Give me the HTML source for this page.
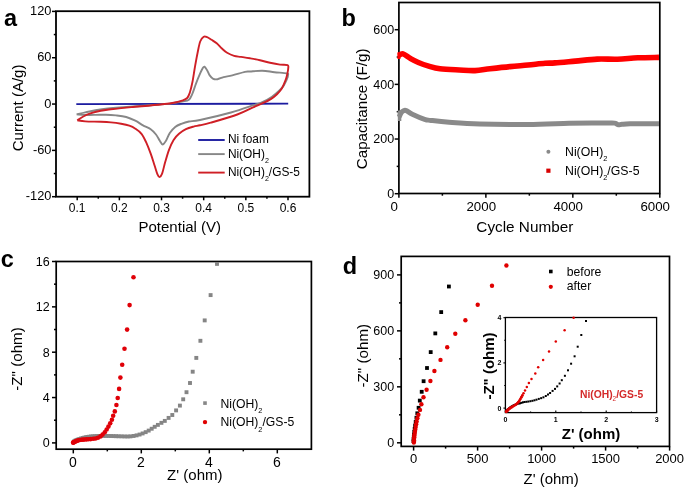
<!DOCTYPE html>
<html><head><meta charset="utf-8"><style>
html,body{margin:0;padding:0;background:#fff;}
svg{display:block;will-change:transform;font-family:"Liberation Sans", sans-serif;}
</style></head><body>
<svg width="685" height="489" viewBox="0 0 685 489">
<rect width="685" height="489" fill="#fff"/>
<rect x="56" y="11.2" width="253.4" height="185.5" fill="none" stroke="#000" stroke-width="1.8"/>
<line x1="52" y1="11.4" x2="56" y2="11.4" stroke="#000" stroke-width="1.5"/>
<text x="51.4" y="14.9" font-size="12.8" text-anchor="end" font-weight="normal" fill="#000">120</text>
<line x1="52" y1="57.72" x2="56" y2="57.72" stroke="#000" stroke-width="1.5"/>
<text x="51.4" y="61.22" font-size="12.8" text-anchor="end" font-weight="normal" fill="#000">60</text>
<line x1="52" y1="104.05" x2="56" y2="104.05" stroke="#000" stroke-width="1.5"/>
<text x="51.4" y="107.55" font-size="12.8" text-anchor="end" font-weight="normal" fill="#000">0</text>
<line x1="52" y1="150.38" x2="56" y2="150.38" stroke="#000" stroke-width="1.5"/>
<text x="51.4" y="153.88" font-size="12.8" text-anchor="end" font-weight="normal" fill="#000">-60</text>
<line x1="52" y1="196.7" x2="56" y2="196.7" stroke="#000" stroke-width="1.5"/>
<text x="51.4" y="200.2" font-size="12.8" text-anchor="end" font-weight="normal" fill="#000">-120</text>
<line x1="53.8" y1="34.56" x2="56" y2="34.56" stroke="#000" stroke-width="1.5"/>
<line x1="53.8" y1="80.89" x2="56" y2="80.89" stroke="#000" stroke-width="1.5"/>
<line x1="53.8" y1="127.21" x2="56" y2="127.21" stroke="#000" stroke-width="1.5"/>
<line x1="53.8" y1="173.54" x2="56" y2="173.54" stroke="#000" stroke-width="1.5"/>
<line x1="77.2" y1="196.7" x2="77.2" y2="200.3" stroke="#000" stroke-width="1.5"/>
<text x="77.2" y="212.4" font-size="12" text-anchor="middle" font-weight="normal" fill="#000">0.1</text>
<line x1="119.36" y1="196.7" x2="119.36" y2="200.3" stroke="#000" stroke-width="1.5"/>
<text x="119.36" y="212.4" font-size="12" text-anchor="middle" font-weight="normal" fill="#000">0.2</text>
<line x1="161.52" y1="196.7" x2="161.52" y2="200.3" stroke="#000" stroke-width="1.5"/>
<text x="161.52" y="212.4" font-size="12" text-anchor="middle" font-weight="normal" fill="#000">0.3</text>
<line x1="203.68" y1="196.7" x2="203.68" y2="200.3" stroke="#000" stroke-width="1.5"/>
<text x="203.68" y="212.4" font-size="12" text-anchor="middle" font-weight="normal" fill="#000">0.4</text>
<line x1="245.84" y1="196.7" x2="245.84" y2="200.3" stroke="#000" stroke-width="1.5"/>
<text x="245.84" y="212.4" font-size="12" text-anchor="middle" font-weight="normal" fill="#000">0.5</text>
<line x1="288" y1="196.7" x2="288" y2="200.3" stroke="#000" stroke-width="1.5"/>
<text x="288" y="212.4" font-size="12" text-anchor="middle" font-weight="normal" fill="#000">0.6</text>
<line x1="98.28" y1="196.7" x2="98.28" y2="198.7" stroke="#000" stroke-width="1.5"/>
<line x1="140.44" y1="196.7" x2="140.44" y2="198.7" stroke="#000" stroke-width="1.5"/>
<line x1="182.6" y1="196.7" x2="182.6" y2="198.7" stroke="#000" stroke-width="1.5"/>
<line x1="224.76" y1="196.7" x2="224.76" y2="198.7" stroke="#000" stroke-width="1.5"/>
<line x1="266.92" y1="196.7" x2="266.92" y2="198.7" stroke="#000" stroke-width="1.5"/>
<text x="179.8" y="232.2" font-size="15" text-anchor="middle" font-weight="normal" fill="#000">Potential (V)</text>
<text transform="translate(23.3,107.9) rotate(-90)" font-size="15" text-anchor="middle">Current (A/g)</text>
<text x="4" y="25.8" font-size="23.5" text-anchor="start" font-weight="bold" fill="#000">a</text>
<path d="M76.3,104.1L288.2,103.7" fill="none" stroke="#1c1ca0" stroke-width="1.8"/>
<path d="M76.6,114.4C78.05,114.07 82.15,113.08 85.3,112.4C88.45,111.72 92.08,110.9 95.5,110.3C98.92,109.7 102.38,109.22 105.8,108.8C109.22,108.38 111.97,108.13 116,107.8C120.03,107.47 124.33,107.23 130,106.8C135.67,106.37 143.33,105.73 150,105.2C156.67,104.67 164.67,104.22 170,103.6C175.33,102.98 178.85,102.15 182,101.5C185.15,100.85 187.17,101.02 188.9,99.7C190.63,98.38 191.25,96.2 192.4,93.6C193.55,91 194.65,87.13 195.8,84.1C196.95,81.07 198.13,78.07 199.3,75.4C200.47,72.73 201.93,69.55 202.8,68.1C203.67,66.65 203.78,66.35 204.5,66.7C205.22,67.05 206.23,68.75 207.1,70.2C207.97,71.65 208.68,73.97 209.7,75.4C210.72,76.83 211.88,78.17 213.2,78.8C214.52,79.43 215.87,79.48 217.6,79.2C219.33,78.92 221.15,77.73 223.6,77.1C226.05,76.47 228.73,76.27 232.3,75.4C235.87,74.53 242.05,72.55 245,71.9C247.95,71.25 247.12,71.7 250,71.5C252.88,71.3 258.22,70.58 262.3,70.7C266.38,70.82 270.42,71.75 274.5,72.2C278.58,72.65 284.55,72.9 286.8,73.4C289.05,73.9 288,74.18 288,75.2C288,76.22 287.52,77.77 286.8,79.5C286.08,81.23 284.93,83.77 283.7,85.6C282.47,87.43 281.35,88.65 279.4,90.5C277.45,92.35 274.85,94.75 272,96.7C269.15,98.65 265.35,100.78 262.3,102.2C259.25,103.62 258.92,103.48 253.7,105.2C248.48,106.92 239.95,110.03 231,112.5C222.05,114.97 207,118.5 200,120C193,121.5 192.12,120.87 189,121.5C185.88,122.13 183.6,122.9 181.3,123.8C179,124.7 177.12,125.37 175.2,126.9C173.28,128.43 171.33,130.7 169.8,133C168.27,135.3 167.2,138.78 166,140.7C164.8,142.62 163.63,144.5 162.6,144.5C161.57,144.5 160.9,142.37 159.8,140.7C158.7,139.03 157.52,136.42 156,134.5C154.48,132.58 152.87,130.73 150.7,129.2C148.53,127.67 145.57,126.72 143,125.3C140.43,123.88 138.1,122.08 135.3,120.7C132.5,119.32 129.42,117.88 126.2,117C122.98,116.12 119.4,115.78 116,115.4C112.6,115.02 109.22,114.78 105.8,114.7C102.38,114.62 98.92,114.87 95.5,114.9C92.08,114.93 88.45,114.98 85.3,114.9C82.15,114.82 78.05,114.48 76.6,114.4" fill="none" stroke="#878787" stroke-width="1.9" stroke-linejoin="round"/>
<path d="M77.2,120.3C78.22,119.67 81.1,117.65 83.3,116.5C85.5,115.35 87.5,114.35 90.4,113.4C93.3,112.45 97.28,111.48 100.7,110.8C104.12,110.12 107.5,109.75 110.9,109.3C114.3,108.85 117.7,108.47 121.1,108.1C124.5,107.73 127.85,107.4 131.3,107.1C134.75,106.8 136.65,106.77 141.8,106.3C146.95,105.83 156.67,104.93 162.2,104.3C167.73,103.67 171.7,103.12 175,102.5C178.3,101.88 179.97,101.35 182,100.6C184.03,99.85 185.9,99.32 187.2,98C188.5,96.68 188.93,95.32 189.8,92.7C190.67,90.08 191.53,86.63 192.4,82.3C193.27,77.97 194.13,71.62 195,66.7C195.87,61.78 196.73,57 197.6,52.8C198.47,48.6 199.18,44.17 200.2,41.5C201.22,38.83 202.55,37.52 203.7,36.8C204.85,36.08 205.8,36.7 207.1,37.2C208.4,37.7 209.9,38.8 211.5,39.8C213.1,40.8 214.97,41.75 216.7,43.2C218.43,44.65 220.17,46.9 221.9,48.5C223.63,50.1 225.07,51.57 227.1,52.8C229.13,54.03 231.78,55.22 234.1,55.9C236.42,56.58 238.35,56.5 241,56.9C243.65,57.3 246.83,57.75 250,58.3C253.17,58.85 256.67,59.45 260,60.2C263.33,60.95 266.67,62.07 270,62.8C273.33,63.53 277.07,64.22 280,64.6C282.93,64.98 286.23,64.45 287.6,65.1C288.97,65.75 288.23,67.12 288.2,68.5C288.17,69.88 287.73,71.77 287.4,73.4C287.07,75.03 286.72,76.67 286.2,78.3C285.68,79.93 285.12,81.37 284.3,83.2C283.48,85.03 282.52,87.47 281.3,89.3C280.08,91.13 278.75,92.57 277,94.2C275.25,95.83 273.25,97.57 270.8,99.1C268.35,100.63 265.15,102.07 262.3,103.4C259.45,104.73 257.87,105.25 253.7,107.1C249.53,108.95 244.47,111.9 237.3,114.5C230.13,117.1 216.92,120.9 210.7,122.7C204.48,124.5 202.85,124.65 200,125.3C197.15,125.95 195.95,125.95 193.6,126.6C191.25,127.25 188.33,128 185.9,129.2C183.47,130.4 181.05,132.02 179,133.8C176.95,135.58 175.27,137.23 173.6,139.9C171.93,142.57 170.4,146.1 169,149.8C167.6,153.5 166.35,158.13 165.2,162.1C164.05,166.07 163.05,171.1 162.1,173.6C161.15,176.1 160.27,176.97 159.5,177.1C158.73,177.23 158.33,176.38 157.5,174.4C156.67,172.42 155.63,168.65 154.5,165.2C153.37,161.75 152.1,157.53 150.7,153.7C149.3,149.87 147.63,145.52 146.1,142.2C144.57,138.88 143.28,136.05 141.5,133.8C139.72,131.55 137.43,130.05 135.4,128.7C133.37,127.35 131.68,126.52 129.3,125.7C126.92,124.88 124.17,124.35 121.1,123.8C118.03,123.25 114.3,122.73 110.9,122.4C107.5,122.07 104.97,121.97 100.7,121.8C96.43,121.63 89.22,121.65 85.3,121.4C81.38,121.15 78.55,120.48 77.2,120.3" fill="none" stroke="#cf1f26" stroke-width="1.9" stroke-linejoin="round"/>
<line x1="198.2" y1="140" x2="224.7" y2="140" stroke="#1c1ca0" stroke-width="1.9"/>
<line x1="198.2" y1="154.1" x2="224.7" y2="154.1" stroke="#878787" stroke-width="1.9"/>
<line x1="198.2" y1="172.6" x2="224.7" y2="172.6" stroke="#cf1f26" stroke-width="1.9"/>
<text x="227.9" y="143.4" font-size="11.9" text-anchor="start" font-weight="normal" fill="#000">Ni foam</text>
<text x="227.9" y="157.8" font-size="11.9" text-anchor="start" font-weight="normal" fill="#000">Ni(OH)<tspan font-size="7.14" dy="5">2</tspan></text>
<text x="227.9" y="176" font-size="11.9" text-anchor="start" font-weight="normal" fill="#000">Ni(OH)<tspan font-size="7.14" dy="5">2</tspan><tspan dy="-5">/GS-5</tspan></text>
<rect x="398.9" y="2.5" width="260.9" height="191" fill="none" stroke="#000" stroke-width="1.7"/>
<line x1="394.7" y1="193.7" x2="398.9" y2="193.7" stroke="#000" stroke-width="1.5"/>
<text x="394.2" y="198.1" font-size="12.5" text-anchor="end" font-weight="normal" fill="#000">0</text>
<line x1="394.7" y1="139.03" x2="398.9" y2="139.03" stroke="#000" stroke-width="1.5"/>
<text x="394.2" y="143.43" font-size="12.5" text-anchor="end" font-weight="normal" fill="#000">200</text>
<line x1="394.7" y1="84.37" x2="398.9" y2="84.37" stroke="#000" stroke-width="1.5"/>
<text x="394.2" y="88.77" font-size="12.5" text-anchor="end" font-weight="normal" fill="#000">400</text>
<line x1="394.7" y1="29.7" x2="398.9" y2="29.7" stroke="#000" stroke-width="1.5"/>
<text x="394.2" y="34.1" font-size="12.5" text-anchor="end" font-weight="normal" fill="#000">600</text>
<line x1="396.7" y1="166.37" x2="398.9" y2="166.37" stroke="#000" stroke-width="1.5"/>
<line x1="396.7" y1="111.7" x2="398.9" y2="111.7" stroke="#000" stroke-width="1.5"/>
<line x1="396.7" y1="57.03" x2="398.9" y2="57.03" stroke="#000" stroke-width="1.5"/>
<line x1="398.9" y1="193.5" x2="398.9" y2="197.7" stroke="#000" stroke-width="1.5"/>
<text x="394.3" y="210.5" font-size="13.3" text-anchor="middle" font-weight="normal" fill="#000">0</text>
<line x1="485.87" y1="193.5" x2="485.87" y2="197.7" stroke="#000" stroke-width="1.5"/>
<text x="481.27" y="210.5" font-size="13.3" text-anchor="middle" font-weight="normal" fill="#000">2000</text>
<line x1="572.83" y1="193.5" x2="572.83" y2="197.7" stroke="#000" stroke-width="1.5"/>
<text x="568.23" y="210.5" font-size="13.3" text-anchor="middle" font-weight="normal" fill="#000">4000</text>
<line x1="659.8" y1="193.5" x2="659.8" y2="197.7" stroke="#000" stroke-width="1.5"/>
<text x="655.2" y="210.5" font-size="13.3" text-anchor="middle" font-weight="normal" fill="#000">6000</text>
<line x1="442.38" y1="193.5" x2="442.38" y2="195.7" stroke="#000" stroke-width="1.5"/>
<line x1="529.35" y1="193.5" x2="529.35" y2="195.7" stroke="#000" stroke-width="1.5"/>
<line x1="616.31" y1="193.5" x2="616.31" y2="195.7" stroke="#000" stroke-width="1.5"/>
<text x="524.8" y="232.2" font-size="15.3" text-anchor="middle" font-weight="normal" fill="#000">Cycle Number</text>
<text transform="translate(367,108.9) rotate(-90)" font-size="15.2" text-anchor="middle">Capacitance (F/g)</text>
<text x="341.6" y="25.6" font-size="23.5" text-anchor="start" font-weight="bold" fill="#000">b</text>
<path d="M399.4,110.5L399.6,121" fill="none" stroke="#8a8a8a" stroke-width="3.5"/>
<path d="M399.2,117C399.5,116.33 400.28,114.03 401,113C401.72,111.97 402.63,111.2 403.5,110.8C404.37,110.4 404.73,110.03 406.2,110.6C407.67,111.17 409.23,112.75 412.3,114.2C415.37,115.65 421.48,118.27 424.6,119.3C427.72,120.33 426.92,119.9 431,120.4C435.08,120.9 440.97,121.68 449.1,122.3C457.23,122.92 466.65,123.75 479.8,124.1C492.95,124.45 513.13,124.55 528,124.4C542.87,124.25 558.33,123.45 569,123.2C579.67,122.95 584.83,122.93 592,122.9C599.17,122.87 608.08,122.92 612,123C615.92,123.08 614.42,123.1 615.5,123.4C616.58,123.7 617.42,124.65 618.5,124.8C619.58,124.95 620.08,124.47 622,124.3C623.92,124.13 623.83,123.88 630,123.8C636.17,123.72 654.17,123.8 659,123.8" fill="none" stroke="#8a8a8a" stroke-width="5" stroke-linejoin="round"/>
<path d="M398.8,52.5L399,59" fill="none" stroke="#ff0000" stroke-width="3"/>
<path d="M398.8,55.3C399.5,55.07 401.08,53.38 403,53.9C404.92,54.42 407.73,56.97 410.3,58.4C412.87,59.83 415.33,61.22 418.4,62.5C421.47,63.78 425.1,65.07 428.7,66.1C432.3,67.13 434.9,68.05 440,68.7C445.1,69.35 453.47,69.68 459.3,70C465.13,70.32 469.88,70.8 475,70.6C480.12,70.4 484.17,69.47 490,68.8C495.83,68.13 503.67,67.23 510,66.6C516.33,65.97 522.17,65.55 528,65C533.83,64.45 540.5,63.65 545,63.3C549.5,62.95 549.95,63.27 555,62.9C560.05,62.53 568.27,61.73 575.3,61.1C582.33,60.47 590.17,59.42 597.2,59.1C604.23,58.78 610.73,59.42 617.5,59.2C624.27,58.98 630.88,58.1 637.8,57.8C644.72,57.5 655.47,57.47 659,57.4" fill="none" stroke="#ff0000" stroke-width="5.6" stroke-linejoin="round"/>
<circle cx="548.4" cy="151.7" r="2" fill="#8a8a8a"/>
<rect x="546.3" y="168.6" width="4.2" height="4.2" fill="#d80000"/>
<text x="565" y="156.3" font-size="12.3" text-anchor="start" font-weight="normal" fill="#000">Ni(OH)<tspan font-size="7.38" dy="5.17">2</tspan></text>
<text x="565" y="174.9" font-size="12.3" text-anchor="start" font-weight="normal" fill="#000">Ni(OH)<tspan font-size="7.38" dy="5.17">2</tspan><tspan dy="-5.17">/GS-5</tspan></text>
<rect x="56.2" y="261.5" width="255.2" height="187.7" fill="none" stroke="#000" stroke-width="1.7"/>
<line x1="52" y1="442.9" x2="56.2" y2="442.9" stroke="#000" stroke-width="1.5"/>
<text x="49.6" y="447.2" font-size="12.5" text-anchor="end" font-weight="normal" fill="#000">0</text>
<line x1="52" y1="397.55" x2="56.2" y2="397.55" stroke="#000" stroke-width="1.5"/>
<text x="49.6" y="401.85" font-size="12.5" text-anchor="end" font-weight="normal" fill="#000">4</text>
<line x1="52" y1="352.2" x2="56.2" y2="352.2" stroke="#000" stroke-width="1.5"/>
<text x="49.6" y="356.5" font-size="12.5" text-anchor="end" font-weight="normal" fill="#000">8</text>
<line x1="52" y1="306.85" x2="56.2" y2="306.85" stroke="#000" stroke-width="1.5"/>
<text x="49.6" y="311.15" font-size="12.5" text-anchor="end" font-weight="normal" fill="#000">12</text>
<line x1="52" y1="261.5" x2="56.2" y2="261.5" stroke="#000" stroke-width="1.5"/>
<text x="49.6" y="265.8" font-size="12.5" text-anchor="end" font-weight="normal" fill="#000">16</text>
<line x1="54" y1="420.22" x2="56.2" y2="420.22" stroke="#000" stroke-width="1.5"/>
<line x1="54" y1="374.88" x2="56.2" y2="374.88" stroke="#000" stroke-width="1.5"/>
<line x1="54" y1="329.52" x2="56.2" y2="329.52" stroke="#000" stroke-width="1.5"/>
<line x1="54" y1="284.17" x2="56.2" y2="284.17" stroke="#000" stroke-width="1.5"/>
<line x1="73.3" y1="449.2" x2="73.3" y2="453.4" stroke="#000" stroke-width="1.5"/>
<text x="73" y="467.1" font-size="14" text-anchor="middle" font-weight="normal" fill="#000">0</text>
<line x1="141.3" y1="449.2" x2="141.3" y2="453.4" stroke="#000" stroke-width="1.5"/>
<text x="141" y="467.1" font-size="14" text-anchor="middle" font-weight="normal" fill="#000">2</text>
<line x1="209.3" y1="449.2" x2="209.3" y2="453.4" stroke="#000" stroke-width="1.5"/>
<text x="209" y="467.1" font-size="14" text-anchor="middle" font-weight="normal" fill="#000">4</text>
<line x1="277.3" y1="449.2" x2="277.3" y2="453.4" stroke="#000" stroke-width="1.5"/>
<text x="277" y="467.1" font-size="14" text-anchor="middle" font-weight="normal" fill="#000">6</text>
<line x1="107.3" y1="449.2" x2="107.3" y2="451.4" stroke="#000" stroke-width="1.5"/>
<line x1="175.3" y1="449.2" x2="175.3" y2="451.4" stroke="#000" stroke-width="1.5"/>
<line x1="243.3" y1="449.2" x2="243.3" y2="451.4" stroke="#000" stroke-width="1.5"/>
<text x="194.8" y="480.4" font-size="15" text-anchor="middle" font-weight="normal" fill="#000">Z' (ohm)</text>
<text transform="translate(21.8,359) rotate(-90)" font-size="15.2" text-anchor="middle">-Z" (ohm)</text>
<text x="0.8" y="266.6" font-size="23.5" text-anchor="start" font-weight="bold" fill="#000">c</text>
<rect x="215.05" y="261.95" width="3.9" height="3.9" fill="#858585"/>
<rect x="208.65" y="293.15" width="3.9" height="3.9" fill="#858585"/>
<rect x="202.75" y="318.45" width="3.9" height="3.9" fill="#858585"/>
<rect x="198.45" y="338.85" width="3.9" height="3.9" fill="#858585"/>
<rect x="194.35" y="355.95" width="3.9" height="3.9" fill="#858585"/>
<rect x="190.75" y="369.75" width="3.9" height="3.9" fill="#858585"/>
<rect x="188.05" y="381.05" width="3.9" height="3.9" fill="#858585"/>
<rect x="184.55" y="390.25" width="3.9" height="3.9" fill="#858585"/>
<rect x="181.25" y="397.35" width="3.9" height="3.9" fill="#858585"/>
<rect x="177.95" y="403.65" width="3.9" height="3.9" fill="#858585"/>
<rect x="174.15" y="408.45" width="3.9" height="3.9" fill="#858585"/>
<rect x="170.35" y="413.05" width="3.9" height="3.9" fill="#858585"/>
<rect x="166.65" y="415.95" width="3.9" height="3.9" fill="#858585"/>
<rect x="162.85" y="418.95" width="3.9" height="3.9" fill="#858585"/>
<rect x="159.48" y="420.89" width="3.9" height="3.9" fill="#858585"/>
<rect x="155.94" y="422.94" width="3.9" height="3.9" fill="#858585"/>
<rect x="152.75" y="424.85" width="3.9" height="3.9" fill="#858585"/>
<rect x="149.74" y="426.8" width="3.9" height="3.9" fill="#858585"/>
<rect x="146.74" y="428.65" width="3.9" height="3.9" fill="#858585"/>
<rect x="143.72" y="430.2" width="3.9" height="3.9" fill="#858585"/>
<rect x="140.67" y="431.5" width="3.9" height="3.9" fill="#858585"/>
<rect x="137.62" y="432.59" width="3.9" height="3.9" fill="#858585"/>
<rect x="134.61" y="433.42" width="3.9" height="3.9" fill="#858585"/>
<rect x="131.62" y="434.02" width="3.9" height="3.9" fill="#858585"/>
<rect x="128.51" y="434.41" width="3.9" height="3.9" fill="#858585"/>
<rect x="125.64" y="434.55" width="3.9" height="3.9" fill="#858585"/>
<rect x="122.62" y="434.5" width="3.9" height="3.9" fill="#858585"/>
<rect x="119.56" y="434.39" width="3.9" height="3.9" fill="#858585"/>
<rect x="116.55" y="434.31" width="3.9" height="3.9" fill="#858585"/>
<rect x="114.05" y="434.23" width="3.9" height="3.9" fill="#858585"/>
<rect x="111.55" y="434.14" width="3.9" height="3.9" fill="#858585"/>
<rect x="109.05" y="434.07" width="3.9" height="3.9" fill="#858585"/>
<rect x="106.55" y="434.03" width="3.9" height="3.9" fill="#858585"/>
<rect x="104.05" y="434" width="3.9" height="3.9" fill="#858585"/>
<rect x="101.55" y="433.99" width="3.9" height="3.9" fill="#858585"/>
<rect x="99.05" y="434.02" width="3.9" height="3.9" fill="#858585"/>
<rect x="97.04" y="434.08" width="3.9" height="3.9" fill="#858585"/>
<rect x="94.99" y="434.15" width="3.9" height="3.9" fill="#858585"/>
<rect x="92.92" y="434.25" width="3.9" height="3.9" fill="#858585"/>
<rect x="90.9" y="434.38" width="3.9" height="3.9" fill="#858585"/>
<rect x="88.97" y="434.55" width="3.9" height="3.9" fill="#858585"/>
<rect x="87.16" y="434.77" width="3.9" height="3.9" fill="#858585"/>
<rect x="85.44" y="435.04" width="3.9" height="3.9" fill="#858585"/>
<rect x="83.8" y="435.36" width="3.9" height="3.9" fill="#858585"/>
<rect x="82.24" y="435.7" width="3.9" height="3.9" fill="#858585"/>
<rect x="80.76" y="436.07" width="3.9" height="3.9" fill="#858585"/>
<rect x="79.01" y="436.54" width="3.9" height="3.9" fill="#858585"/>
<rect x="77.34" y="437.08" width="3.9" height="3.9" fill="#858585"/>
<rect x="75.81" y="437.64" width="3.9" height="3.9" fill="#858585"/>
<rect x="74.5" y="438.16" width="3.9" height="3.9" fill="#858585"/>
<rect x="73.29" y="438.71" width="3.9" height="3.9" fill="#858585"/>
<rect x="72.2" y="439.39" width="3.9" height="3.9" fill="#858585"/>
<circle cx="133.5" cy="277.2" r="2.3" fill="#e00008"/>
<circle cx="129.6" cy="305.1" r="2.3" fill="#e00008"/>
<circle cx="127.1" cy="329.6" r="2.3" fill="#e00008"/>
<circle cx="124.5" cy="348.7" r="2.3" fill="#e00008"/>
<circle cx="122.2" cy="364.8" r="2.3" fill="#e00008"/>
<circle cx="120.4" cy="377.6" r="2.3" fill="#e00008"/>
<circle cx="119.1" cy="388.9" r="2.3" fill="#e00008"/>
<circle cx="117.7" cy="398" r="2.3" fill="#e00008"/>
<circle cx="116.4" cy="405" r="2.3" fill="#e00008"/>
<circle cx="114.8" cy="411.4" r="2.3" fill="#e00008"/>
<circle cx="113.17" cy="415.74" r="2.3" fill="#e00008"/>
<circle cx="111.92" cy="419.76" r="2.3" fill="#e00008"/>
<circle cx="110.23" cy="423.34" r="2.3" fill="#e00008"/>
<circle cx="108.44" cy="426.58" r="2.3" fill="#e00008"/>
<circle cx="106.66" cy="429.57" r="2.3" fill="#e00008"/>
<circle cx="104.77" cy="432.18" r="2.3" fill="#e00008"/>
<circle cx="102.59" cy="434.6" r="2.3" fill="#e00008"/>
<circle cx="100.44" cy="436.42" r="2.3" fill="#e00008"/>
<circle cx="97.92" cy="437.81" r="2.3" fill="#e00008"/>
<circle cx="95.5" cy="438.47" r="2.3" fill="#e00008"/>
<circle cx="93.17" cy="438.82" r="2.3" fill="#e00008"/>
<circle cx="90.73" cy="439.11" r="2.3" fill="#e00008"/>
<circle cx="88.48" cy="439.26" r="2.3" fill="#e00008"/>
<circle cx="86.58" cy="439.35" r="2.3" fill="#e00008"/>
<circle cx="84.75" cy="439.47" r="2.3" fill="#e00008"/>
<circle cx="83.03" cy="439.63" r="2.3" fill="#e00008"/>
<circle cx="81.36" cy="439.81" r="2.3" fill="#e00008"/>
<circle cx="79.77" cy="440.02" r="2.3" fill="#e00008"/>
<circle cx="78.28" cy="440.33" r="2.3" fill="#e00008"/>
<circle cx="77.15" cy="440.68" r="2.3" fill="#e00008"/>
<circle cx="76.01" cy="441.16" r="2.3" fill="#e00008"/>
<circle cx="74.94" cy="441.69" r="2.3" fill="#e00008"/>
<circle cx="74.03" cy="442.17" r="2.3" fill="#e00008"/>
<circle cx="73.2" cy="442.6" r="2.3" fill="#e00008"/>
<circle cx="73.2" cy="442.6" r="2.3" fill="#e00008"/>
<rect x="203.2" y="401.3" width="3.6" height="3.6" fill="#878787"/>
<circle cx="205" cy="422.1" r="2.2" fill="#e00000"/>
<text x="220.4" y="407.6" font-size="12.2" text-anchor="start" font-weight="normal" fill="#000">Ni(OH)<tspan font-size="7.32" dy="5.12">2</tspan></text>
<text x="220.4" y="426.4" font-size="12.2" text-anchor="start" font-weight="normal" fill="#000">Ni(OH)<tspan font-size="7.32" dy="5.12">2</tspan><tspan dy="-5.12">/GS-5</tspan></text>
<rect x="401.2" y="256.4" width="268.3" height="190" fill="none" stroke="#000" stroke-width="1.7"/>
<line x1="397" y1="442.8" x2="401.2" y2="442.8" stroke="#000" stroke-width="1.5"/>
<text x="394.2" y="447.1" font-size="12.5" text-anchor="end" font-weight="normal" fill="#000">0</text>
<line x1="397" y1="386.83" x2="401.2" y2="386.83" stroke="#000" stroke-width="1.5"/>
<text x="394.2" y="391.13" font-size="12.5" text-anchor="end" font-weight="normal" fill="#000">300</text>
<line x1="397" y1="330.86" x2="401.2" y2="330.86" stroke="#000" stroke-width="1.5"/>
<text x="394.2" y="335.16" font-size="12.5" text-anchor="end" font-weight="normal" fill="#000">600</text>
<line x1="397" y1="274.9" x2="401.2" y2="274.9" stroke="#000" stroke-width="1.5"/>
<text x="394.2" y="279.2" font-size="12.5" text-anchor="end" font-weight="normal" fill="#000">900</text>
<line x1="399" y1="414.82" x2="401.2" y2="414.82" stroke="#000" stroke-width="1.5"/>
<line x1="399" y1="358.85" x2="401.2" y2="358.85" stroke="#000" stroke-width="1.5"/>
<line x1="399" y1="302.88" x2="401.2" y2="302.88" stroke="#000" stroke-width="1.5"/>
<line x1="413.6" y1="446.4" x2="413.6" y2="450.6" stroke="#000" stroke-width="1.5"/>
<text x="413.6" y="462.7" font-size="13" text-anchor="middle" font-weight="normal" fill="#000">0</text>
<line x1="477.6" y1="446.4" x2="477.6" y2="450.6" stroke="#000" stroke-width="1.5"/>
<text x="477.6" y="462.7" font-size="13" text-anchor="middle" font-weight="normal" fill="#000">500</text>
<line x1="541.6" y1="446.4" x2="541.6" y2="450.6" stroke="#000" stroke-width="1.5"/>
<text x="541.6" y="462.7" font-size="13" text-anchor="middle" font-weight="normal" fill="#000">1000</text>
<line x1="605.6" y1="446.4" x2="605.6" y2="450.6" stroke="#000" stroke-width="1.5"/>
<text x="605.6" y="462.7" font-size="13" text-anchor="middle" font-weight="normal" fill="#000">1500</text>
<line x1="669.6" y1="446.4" x2="669.6" y2="450.6" stroke="#000" stroke-width="1.5"/>
<text x="669.6" y="462.7" font-size="13" text-anchor="middle" font-weight="normal" fill="#000">2000</text>
<line x1="445.6" y1="446.4" x2="445.6" y2="448.6" stroke="#000" stroke-width="1.5"/>
<line x1="509.6" y1="446.4" x2="509.6" y2="448.6" stroke="#000" stroke-width="1.5"/>
<line x1="573.6" y1="446.4" x2="573.6" y2="448.6" stroke="#000" stroke-width="1.5"/>
<line x1="637.6" y1="446.4" x2="637.6" y2="448.6" stroke="#000" stroke-width="1.5"/>
<text x="551.2" y="484.2" font-size="15" text-anchor="middle" font-weight="normal" fill="#000">Z' (ohm)</text>
<text transform="translate(367.5,355.7) rotate(-90)" font-size="15.2" text-anchor="middle">-Z" (ohm)</text>
<text x="342.8" y="273.6" font-size="23.5" text-anchor="start" font-weight="bold" fill="#000">d</text>
<rect x="505.4" y="317.5" width="151.2" height="95.1" fill="#fff" stroke="#000" stroke-width="1.3"/>
<line x1="503.4" y1="408.1" x2="505.4" y2="408.1" stroke="#000" stroke-width="1.1"/>
<text x="501.4" y="410.6" font-size="7" text-anchor="end" font-weight="bold" fill="#000">0</text>
<line x1="503.4" y1="362.9" x2="505.4" y2="362.9" stroke="#000" stroke-width="1.1"/>
<text x="501.4" y="365.4" font-size="7" text-anchor="end" font-weight="bold" fill="#000">2</text>
<line x1="503.4" y1="317.7" x2="505.4" y2="317.7" stroke="#000" stroke-width="1.1"/>
<text x="501.4" y="320.2" font-size="7" text-anchor="end" font-weight="bold" fill="#000">4</text>
<line x1="504.2" y1="385.5" x2="505.4" y2="385.5" stroke="#000" stroke-width="1.1"/>
<line x1="504.2" y1="340.3" x2="505.4" y2="340.3" stroke="#000" stroke-width="1.1"/>
<line x1="505.4" y1="412.6" x2="505.4" y2="410.6" stroke="#000" stroke-width="1.1"/>
<text x="505.4" y="422.4" font-size="7" text-anchor="middle" font-weight="bold" fill="#000">0</text>
<line x1="555.8" y1="412.6" x2="555.8" y2="410.6" stroke="#000" stroke-width="1.1"/>
<text x="555.8" y="422.4" font-size="7" text-anchor="middle" font-weight="bold" fill="#000">1</text>
<line x1="606.2" y1="412.6" x2="606.2" y2="410.6" stroke="#000" stroke-width="1.1"/>
<text x="606.2" y="422.4" font-size="7" text-anchor="middle" font-weight="bold" fill="#000">2</text>
<line x1="656.6" y1="412.6" x2="656.6" y2="410.6" stroke="#000" stroke-width="1.1"/>
<text x="656.6" y="422.4" font-size="7" text-anchor="middle" font-weight="bold" fill="#000">3</text>
<line x1="530.6" y1="412.6" x2="530.6" y2="411.4" stroke="#000" stroke-width="1.1"/>
<line x1="581" y1="412.6" x2="581" y2="411.4" stroke="#000" stroke-width="1.1"/>
<line x1="631.4" y1="412.6" x2="631.4" y2="411.4" stroke="#000" stroke-width="1.1"/>
<text x="591" y="439.2" font-size="15" text-anchor="middle" font-weight="bold" fill="#000">Z' (ohm)</text>
<text transform="translate(493.6,366) rotate(-90)" font-size="15" font-weight="bold" text-anchor="middle">-Z" (ohm)</text>
<text x="580" y="398.4" font-size="10.3" font-weight="bold" fill="#d42a2a">Ni(OH)<tspan font-size="6.5" font-weight="normal" dy="3">2</tspan><tspan dy="-3">/GS-5</tspan></text>
<rect x="585" y="320" width="2" height="2" fill="#000"/>
<rect x="580.3" y="334" width="2" height="2" fill="#000"/>
<rect x="576.7" y="345.7" width="2" height="2" fill="#000"/>
<rect x="573.6" y="355.3" width="2" height="2" fill="#000"/>
<rect x="570.1" y="362.7" width="2" height="2" fill="#000"/>
<rect x="567" y="369.3" width="2" height="2" fill="#000"/>
<rect x="563.9" y="374.8" width="2" height="2" fill="#000"/>
<rect x="560.8" y="379.2" width="2" height="2" fill="#000"/>
<rect x="558.6" y="382.5" width="2" height="2" fill="#000"/>
<rect x="556.2" y="385.4" width="2" height="2" fill="#000"/>
<rect x="554" y="387.9" width="2" height="2" fill="#000"/>
<rect x="551.6" y="389.9" width="2" height="2" fill="#000"/>
<rect x="549.1" y="392" width="2" height="2" fill="#000"/>
<rect x="547" y="393.5" width="2" height="2" fill="#000"/>
<rect x="544.81" y="394.99" width="2" height="2" fill="#000"/>
<rect x="542.43" y="396.31" width="2" height="2" fill="#000"/>
<rect x="540.15" y="397.15" width="2" height="2" fill="#000"/>
<rect x="537.8" y="397.9" width="2" height="2" fill="#000"/>
<rect x="535.5" y="398.67" width="2" height="2" fill="#000"/>
<rect x="533.47" y="399.29" width="2" height="2" fill="#000"/>
<rect x="531.43" y="399.8" width="2" height="2" fill="#000"/>
<rect x="529.39" y="400.2" width="2" height="2" fill="#000"/>
<rect x="527.34" y="400.54" width="2" height="2" fill="#000"/>
<rect x="525.46" y="400.79" width="2" height="2" fill="#000"/>
<rect x="523.63" y="401.01" width="2" height="2" fill="#000"/>
<rect x="521.95" y="401.33" width="2" height="2" fill="#000"/>
<rect x="520.41" y="401.86" width="2" height="2" fill="#000"/>
<rect x="518.97" y="402.32" width="2" height="2" fill="#000"/>
<rect x="517.51" y="402.66" width="2" height="2" fill="#000"/>
<rect x="515.91" y="403.06" width="2" height="2" fill="#000"/>
<rect x="514.56" y="403.5" width="2" height="2" fill="#000"/>
<rect x="513.24" y="404.07" width="2" height="2" fill="#000"/>
<rect x="512.14" y="404.6" width="2" height="2" fill="#000"/>
<rect x="511.05" y="405.19" width="2" height="2" fill="#000"/>
<rect x="509.99" y="405.83" width="2" height="2" fill="#000"/>
<rect x="509" y="406.5" width="2" height="2" fill="#000"/>
<rect x="508.02" y="407.29" width="2" height="2" fill="#000"/>
<rect x="507.28" y="407.98" width="2" height="2" fill="#000"/>
<rect x="506.57" y="408.68" width="2" height="2" fill="#000"/>
<rect x="505.92" y="409.35" width="2" height="2" fill="#000"/>
<rect x="505.19" y="410.11" width="2" height="2" fill="#000"/>
<circle cx="573.6" cy="317.8" r="1.25" fill="#e00000"/>
<circle cx="564.6" cy="330.3" r="1.25" fill="#e00000"/>
<circle cx="555.8" cy="341.6" r="1.25" fill="#e00000"/>
<circle cx="549" cy="351.4" r="1.25" fill="#e00000"/>
<circle cx="543.1" cy="360" r="1.25" fill="#e00000"/>
<circle cx="538.2" cy="367.2" r="1.25" fill="#e00000"/>
<circle cx="535.3" cy="373.5" r="1.25" fill="#e00000"/>
<circle cx="531.5" cy="379" r="1.25" fill="#e00000"/>
<circle cx="528.9" cy="383.1" r="1.25" fill="#e00000"/>
<circle cx="526.8" cy="386.9" r="1.25" fill="#e00000"/>
<circle cx="525" cy="390.4" r="1.25" fill="#e00000"/>
<circle cx="523.5" cy="393.3" r="1.25" fill="#e00000"/>
<circle cx="522.4" cy="395.41" r="1.45" fill="#e00000"/>
<circle cx="521.4" cy="397.28" r="1.45" fill="#e00000"/>
<circle cx="520.42" cy="399.1" r="1.45" fill="#e00000"/>
<circle cx="519.4" cy="400.7" r="1.45" fill="#e00000"/>
<circle cx="518.28" cy="402.15" r="1.45" fill="#e00000"/>
<circle cx="517.16" cy="403.39" r="1.45" fill="#e00000"/>
<circle cx="515.93" cy="404.5" r="1.45" fill="#e00000"/>
<circle cx="514.72" cy="405.33" r="1.45" fill="#e00000"/>
<circle cx="513.46" cy="406.09" r="1.45" fill="#e00000"/>
<circle cx="512.3" cy="406.8" r="1.45" fill="#e00000"/>
<circle cx="511.3" cy="407.41" r="1.45" fill="#e00000"/>
<circle cx="510.4" cy="407.95" r="1.45" fill="#e00000"/>
<circle cx="509.51" cy="408.56" r="1.45" fill="#e00000"/>
<circle cx="508.71" cy="409.24" r="1.45" fill="#e00000"/>
<circle cx="507.99" cy="409.93" r="1.45" fill="#e00000"/>
<circle cx="507.28" cy="410.65" r="1.45" fill="#e00000"/>
<circle cx="506.66" cy="411.32" r="1.45" fill="#e00000"/>
<circle cx="506.19" cy="411.81" r="1.45" fill="#e00000"/>
<rect x="447" y="284.6" width="3.8" height="3.8" fill="#000"/>
<rect x="439.3" y="310.2" width="3.8" height="3.8" fill="#000"/>
<rect x="433.4" y="331.5" width="3.8" height="3.8" fill="#000"/>
<rect x="428.8" y="350.2" width="3.8" height="3.8" fill="#000"/>
<rect x="425.1" y="366.1" width="3.8" height="3.8" fill="#000"/>
<rect x="421.7" y="379.3" width="3.8" height="3.8" fill="#000"/>
<rect x="419.8" y="389.9" width="3.8" height="3.8" fill="#000"/>
<rect x="417.9" y="398.7" width="3.8" height="3.8" fill="#000"/>
<rect x="416.7" y="405.9" width="3.8" height="3.8" fill="#000"/>
<rect x="415.4" y="411.4" width="3.8" height="3.8" fill="#000"/>
<rect x="414.53" y="415.85" width="3.8" height="3.8" fill="#000"/>
<rect x="413.78" y="420.08" width="3.8" height="3.8" fill="#000"/>
<rect x="413.21" y="423.7" width="3.8" height="3.8" fill="#000"/>
<rect x="412.76" y="427" width="3.8" height="3.8" fill="#000"/>
<rect x="412.4" y="430.01" width="3.8" height="3.8" fill="#000"/>
<rect x="412.11" y="432.79" width="3.8" height="3.8" fill="#000"/>
<rect x="411.9" y="435.1" width="3.8" height="3.8" fill="#000"/>
<rect x="411.74" y="437.3" width="3.8" height="3.8" fill="#000"/>
<rect x="411.64" y="439.18" width="3.8" height="3.8" fill="#000"/>
<circle cx="506.4" cy="265.5" r="2.2" fill="#e00000"/>
<circle cx="492" cy="285.7" r="2.2" fill="#e00000"/>
<circle cx="477.7" cy="304.7" r="2.2" fill="#e00000"/>
<circle cx="465.4" cy="320.2" r="2.2" fill="#e00000"/>
<circle cx="455.3" cy="333.8" r="2.2" fill="#e00000"/>
<circle cx="447.2" cy="347.2" r="2.2" fill="#e00000"/>
<circle cx="440.5" cy="359.9" r="2.2" fill="#e00000"/>
<circle cx="434.4" cy="371" r="2.2" fill="#e00000"/>
<circle cx="430.4" cy="381" r="2.2" fill="#e00000"/>
<circle cx="426.6" cy="389.7" r="2.2" fill="#e00000"/>
<circle cx="423.5" cy="397.2" r="2.2" fill="#e00000"/>
<circle cx="421.4" cy="404.2" r="2.2" fill="#e00000"/>
<circle cx="420" cy="409.9" r="2.2" fill="#e00000"/>
<circle cx="418.4" cy="414.7" r="2.2" fill="#e00000"/>
<circle cx="417.36" cy="418.17" r="2.2" fill="#e00000"/>
<circle cx="416.65" cy="421.41" r="2.2" fill="#e00000"/>
<circle cx="416.14" cy="424.32" r="2.2" fill="#e00000"/>
<circle cx="415.68" cy="427.01" r="2.2" fill="#e00000"/>
<circle cx="415.26" cy="429.61" r="2.2" fill="#e00000"/>
<circle cx="414.91" cy="431.86" r="2.2" fill="#e00000"/>
<circle cx="414.59" cy="433.98" r="2.2" fill="#e00000"/>
<circle cx="414.36" cy="435.67" r="2.2" fill="#e00000"/>
<circle cx="414.17" cy="437.34" r="2.2" fill="#e00000"/>
<circle cx="414.05" cy="438.75" r="2.2" fill="#e00000"/>
<circle cx="413.96" cy="440.19" r="2.2" fill="#e00000"/>
<circle cx="413.89" cy="441.52" r="2.2" fill="#e00000"/>
<circle cx="413.83" cy="442.61" r="2.2" fill="#e00000"/>
<rect x="549" y="269.7" width="3.6" height="3.6" fill="#000"/>
<circle cx="550.8" cy="286.8" r="2.1" fill="#e00000"/>
<text x="566.8" y="275.6" font-size="12.2" text-anchor="start" font-weight="normal" fill="#000">before</text>
<text x="566.8" y="290.4" font-size="12.2" text-anchor="start" font-weight="normal" fill="#000">after</text>
</svg>
</body></html>
